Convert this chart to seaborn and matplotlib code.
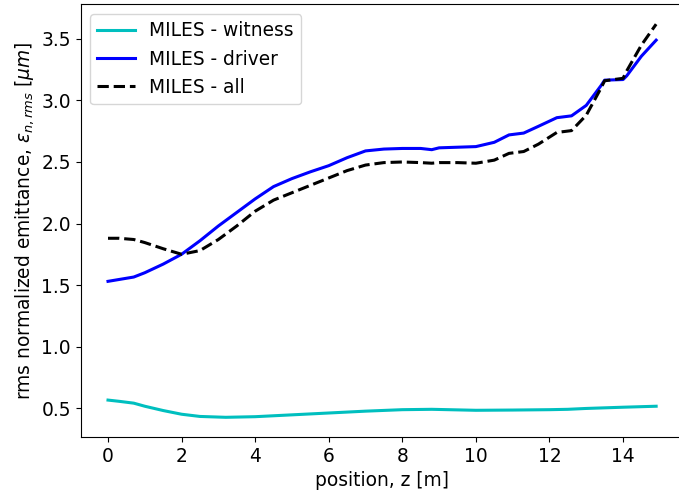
import matplotlib
matplotlib.use("Agg")
import matplotlib.pyplot as plt
import seaborn as sns
import numpy as np
import pandas as pd

z_driver = [0, 0.3, 0.7, 1.0, 1.5, 2.0, 2.5, 3.0, 3.5, 4.0, 4.5, 5.0, 5.5, 6.0, 6.5, 7.0, 7.5, 8.0, 8.5, 8.8,
            9.0, 9.5, 10.0, 10.5, 10.9, 11.3, 11.7, 12.2, 12.6, 13.0, 13.4, 13.5, 14.0, 14.1, 14.5, 14.9]
driver = [1.53, 1.545, 1.565, 1.60, 1.67, 1.75, 1.86, 1.98, 2.09, 2.20, 2.30, 2.365, 2.42, 2.47, 2.535, 2.59,
          2.605, 2.61, 2.61, 2.60, 2.615, 2.62, 2.625, 2.66, 2.72, 2.735, 2.79, 2.86, 2.875, 2.96, 3.12, 3.165,
          3.17, 3.20, 3.36, 3.49]
all_ = [1.88, 1.88, 1.87, 1.845, 1.795, 1.75, 1.78, 1.87, 1.98, 2.10, 2.19, 2.25, 2.31, 2.37, 2.43, 2.475,
        2.495, 2.50, 2.495, 2.49, 2.495, 2.495, 2.49, 2.515, 2.57, 2.585, 2.645, 2.74, 2.755, 2.88, 3.10, 3.16,
        3.18, 3.24, 3.45, 3.62]
z_witness = [0, 0.3, 0.7, 1.0, 1.5, 2.0, 2.5, 3.2, 4.0, 5.0, 6.0, 7.0, 8.0, 8.8, 10.0, 11.0, 12.0, 12.5,
             13.0, 14.0, 14.9]
witness = [0.565, 0.555, 0.54, 0.515, 0.48, 0.45, 0.432, 0.425, 0.43, 0.445, 0.46, 0.475, 0.487, 0.49,
           0.482, 0.484, 0.487, 0.49, 0.497, 0.507, 0.515]

fs = 13.4
fig = plt.figure(figsize=(6.79, 4.93), dpi=100)
ax = fig.add_axes([0.1187, 0.1136, 0.888, 0.8773])
sns.lineplot(x=z_witness, y=witness, ax=ax, color='c', lw=2.2, label='MILES - witness')
sns.lineplot(x=z_driver, y=driver, ax=ax, color='b', lw=2.2, label='MILES - driver')
sns.lineplot(x=z_driver, y=all_, ax=ax, color='k', lw=2.2, linestyle='--', label='MILES - all')
ax.set_xlim(-0.745, 15.645)
ax.set_ylim(0.265, 3.78)
ax.set_xticks([0, 2, 4, 6, 8, 10, 12, 14])
ax.set_yticks([0.5, 1.0, 1.5, 2.0, 2.5, 3.0, 3.5])
ax.set_xlabel('position, z [m]', fontsize=fs)
ax.set_ylabel(r'rms normalized emittance, $\epsilon_{n,rms}$ [$\mu m$]', fontsize=fs)
ax.tick_params(labelsize=fs)
ax.legend(loc='upper left', fontsize=fs)
fig.savefig('out.png', dpi=100)
